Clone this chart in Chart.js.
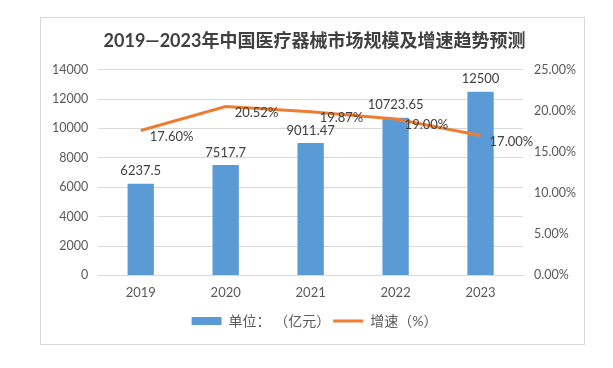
<!DOCTYPE html>
<html>
<head>
<meta charset="utf-8">
<script src="https://cdn.jsdelivr.net/npm/chart.js@4/dist/chart.umd.min.js"></script>
<style>
    body { margin: 0; background: #fff; width: 613px; height: 368px; position: relative; }
    #box { position: absolute; left: 40px; top: 17px; width: 545px; height: 328px; border: 1px solid #d9d9d9; box-sizing: border-box; }
    #myChart { position: absolute; left: -1px; top: -1px; }
</style>
</head>
<body>
<div id="box"><canvas id="myChart" width="547" height="328"></canvas></div>
<script>
const years = ['2019', '2020', '2021', '2022', '2023'];
const marketSize = [6237.5, 7517.7, 9011.47, 10723.65, 12500];
const growthRate = [17.60, 20.52, 19.87, 19.00, 17.00];
const sizeTicks = [0, 2000, 4000, 6000, 8000, 10000, 12000, 14000];
const rateTicks = [0, 5, 10, 15, 20, 25];

const FONT = 'Lato, "Noto Sans CJK SC", sans-serif';
const TEXT = '#595959';

// draws the value labels next to bars and line points
const valueLabels = {
    id: 'valueLabels',
    afterDatasetsDraw(chart) {
        const c = chart.ctx;
        c.save();
        c.font = '13px ' + FONT;
        c.fillStyle = '#404040';
        chart.getDatasetMeta(0).data.forEach((bar, i) => {
            c.textAlign = 'center';
            c.textBaseline = 'bottom';
            c.fillText(String(marketSize[i]), bar.x, bar.y - 6);
        });
        chart.getDatasetMeta(1).data.forEach((pt, i) => {
            c.textAlign = 'left';
            c.textBaseline = 'middle';
            c.fillText(growthRate[i].toFixed(2) + '%', pt.x + 9, pt.y + 6);
        });
        c.restore();
    }
};

const ctx = document.getElementById('myChart');

new Chart(ctx, {
    data: {
        labels: years,
        datasets: [{
            type: 'bar',
            label: '单位： （亿元）',
            data: marketSize,
            backgroundColor: '#5b9bd5',
            borderWidth: 0,
            categoryPercentage: 1,
            barPercentage: 0.31,
            yAxisID: 'y',
            pointStyle: 'rect',
            order: 2
        }, {
            type: 'line',
            label: '增速（%）',
            data: growthRate,
            borderColor: '#ed7d31',
            backgroundColor: '#ed7d31',
            borderWidth: 3,
            pointRadius: 0,
            pointStyle: 'line',
            tension: 0,
            yAxisID: 'y1',
            order: 1
        }]
    },
    options: {
        responsive: false,
        animation: false,
        devicePixelRatio: 1,
        layout: { padding: { left: 2, right: 0, top: 8, bottom: 7 } },
        plugins: {
            title: {
                display: true,
                text: '2019—2023年中国医疗器械市场规模及增速趋势预测',
                color: '#404040',
                font: { family: FONT, size: 18, weight: 'bold' },
                padding: { top: 5, bottom: 18 }
            },
            legend: {
                position: 'bottom',
                labels: {
                    usePointStyle: true,
                    pointStyleWidth: 30,
                    boxHeight: 8,
                    color: TEXT,
                    font: { family: FONT, size: 14 },
                    padding: 3,
                    sort: (a, b) => a.datasetIndex - b.datasetIndex
                }
            },
            tooltip: { enabled: false }
        },
        scales: {
            x: {
                grid: { display: false, drawTicks: false },
                border: { color: '#d9d9d9' },
                ticks: { color: TEXT, font: { family: FONT, size: 13 }, padding: 10 }
            },
            y: {
                position: 'left',
                min: 0,
                max: 14000,
                afterBuildTicks: axis => { axis.ticks = sizeTicks.map(v => ({ value: v })); },
                grid: { color: '#d9d9d9', drawTicks: false },
                border: { display: false },
                ticks: {
                    color: TEXT,
                    font: { family: FONT, size: 12.5 },
                    padding: 10,
                    callback: v => String(v)
                }
            },
            y1: {
                position: 'right',
                min: 0,
                max: 25,
                afterBuildTicks: axis => { axis.ticks = rateTicks.map(v => ({ value: v })); },
                grid: { display: false, drawTicks: false },
                border: { display: false },
                ticks: {
                    color: TEXT,
                    font: { family: FONT, size: 12.5 },
                    padding: 11,
                    callback: v => v.toFixed(2) + '%'
                }
            }
        }
    },
    plugins: [valueLabels]
});
</script>
</body>
</html>
